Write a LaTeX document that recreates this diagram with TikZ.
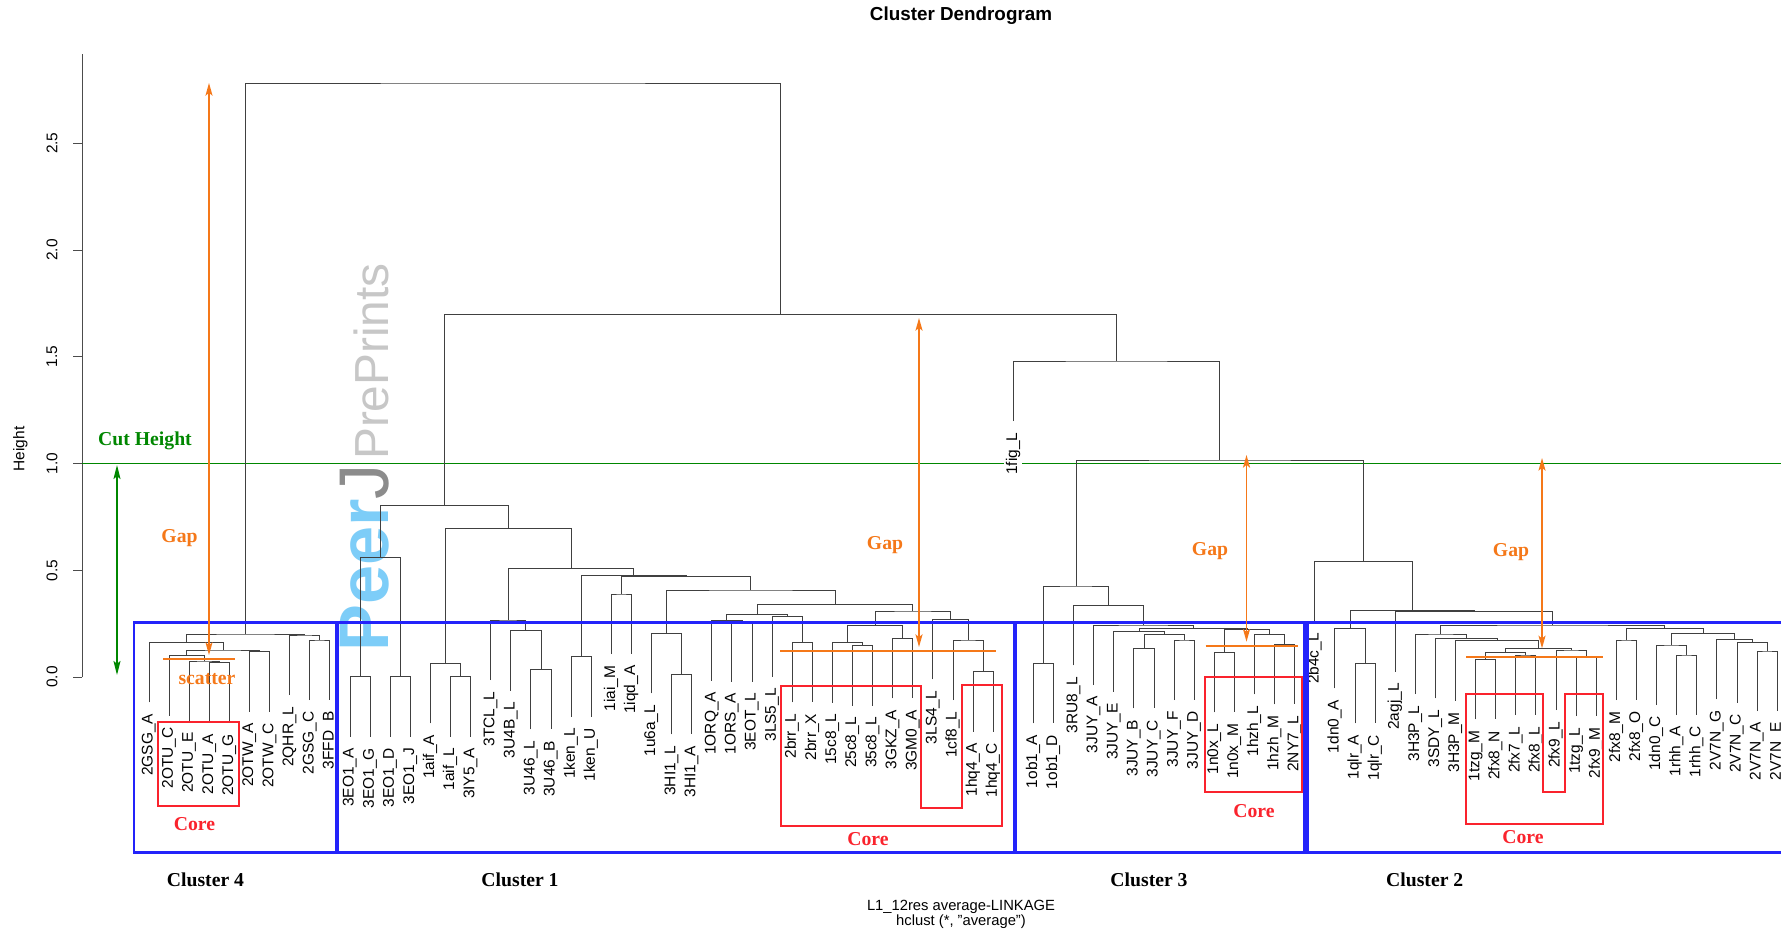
\documentclass[tikz,border=0pt]{standalone}
\usepackage{fontspec}
\setmainfont{Liberation Sans}
\newfontfamily\annofont{Liberation Serif}
\usetikzlibrary{calc}
\usetikzlibrary{arrows.meta}
\definecolor{peerblue}{RGB}{125,205,248}
\definecolor{cutgreen}{RGB}{0,135,0}
\definecolor{gaporange}{RGB}{245,120,25}
\definecolor{boxblue}{RGB}{35,35,250}
\definecolor{corered}{RGB}{250,35,45}
\tikzset{
    dendro/.style = {draw=black!75,line width=0.6pt},
    axisl/.style = {draw=black!70,line width=0.6pt},
    leaf/.style = {rotate=90,anchor=mid east,inner xsep=8pt,inner ysep=1.5pt,fill=white,font=\fontsize{11}{13}\selectfont},
    tick/.style = {rotate=90,inner sep=0pt,font=\fontsize{11}{13}\selectfont},
    boxb/.style = {draw=boxblue,line width=1.6pt},
    boxr/.style = {draw=corered,line width=1.3pt},
    edgeo/.style = {{Stealth[length=9pt,width=5pt,inset=2pt]}-{Stealth[length=9pt,width=5pt,inset=2pt]},draw=gaporange,line width=1.1pt},
    edgeg/.style = {{Stealth[length=10pt,width=5pt,inset=2pt]}-{Stealth[length=10pt,width=5pt,inset=2pt]},draw=cutgreen,line width=1pt},
    scatline/.style = {draw=gaporange,line width=1.3pt},
    cutline/.style = {draw=cutgreen,line width=1pt},
    anno/.style = {inner sep=0pt,font=\annofont\bfseries\fontsize{14}{16}\selectfont},
    annoo/.style = {anno,text=gaporange},
    annog/.style = {anno,text=cutgreen},
    annor/.style = {anno,text=corered},
}
% merge two children at height #4 (px)
\newcommand{\joinup}[4]{%
  \path let \p1=(#2), \p2=(#3) in coordinate (#1) at ({0.5*(\x1+\x2)},{#4*-0.025cm});
  \draw[dendro] (#2) |- (#1) -| (#3);
}

\begin{document}
\begin{tikzpicture}[x=0.025cm,y=-0.025cm]
\fill[white] (0,0) rectangle (1781,931);
\useasboundingbox (0,0) rectangle (1781,931);

% watermark
\node[rotate=90,anchor=base west,inner sep=0pt] (peerj) at (388,652)
  {\fontsize{50}{54}\selectfont\textcolor{peerblue}{\bfseries Peer}\textcolor{black!45}{J}\hspace{3pt}\textcolor{black!22}{\fontsize{34}{38}\selectfont PrePrints}};

\node[font=\bfseries\fontsize{13.4}{16}\selectfont] (title) at (961,16) {Cluster Dendrogram};
\node[tick] (ylab) at (20.5,449) {Height};
\draw[axisl] (82,677) -- (82,54.5);
\foreach \v [count=\k] in {0.0,0.5,1.0,1.5,2.0,2.5} {
  \draw[axisl] (82,{677-213.5*\v}) -- (73,{677-213.5*\v});
  \node[tick] (tick\k) at (52,{677-213.5*\v}) {\v};
}

\draw[cutline] (82,463.5) -- (1781,463.5);

% leaves
\foreach \lab/\yb [count=\i from 0] in {
  2GSG\_A/702.3, 2OTU\_C/715.7, 2OTU\_E/721, 2OTU\_A/722.5, 2OTU\_G/722.5,
  2OTW\_A/711.7, 2OTW\_C/711.7, 2QHR\_L/695, 2GSG\_C/700, 3FFD\_B/700,
  3EO1\_A/736.7, 3EO1\_G/736.7, 3EO1\_D/736.7, 3EO1\_J/736.7, 1aif\_A/723.3,
  1aif\_L/736.7, 3IY5\_A/736.7, 3TCL\_L/680, 3U4B\_L/690.7, 3U46\_L/729.3,
  3U46\_B/729.3, 1ken\_L/716.7, 1ken\_U/716.7, 1iai\_M/654, 1iqd\_A/654,
  1u6a\_L/693.3, 3HI1\_L/734.3, 3HI1\_A/734.3, 1ORQ\_A/680.5, 1ORS\_A/681.7,
  3EOT\_L/681.7, 3LS5\_L/676.7, 2brr\_L/702.3, 2brr\_X/702.3, 15c8\_L/702.5,
  25c8\_L/705.7, 35c8\_L/705.7, 3GKZ\_A/698.3, 3GM0\_A/698.3, 3LS4\_L/679.3,
  1cf8\_L/700, 1hq4\_A/731.7, 1hq4\_C/731.7,
  1fig\_L/421,
  1ob1\_A/723.3, 1ob1\_D/723.3, 3RU8\_L/665.3, 3JUY\_A/685, 3JUY\_E/691.7,
  3JUY\_B/708.3, 3JUY\_C/708.3, 3JUY\_F/700, 3JUY\_D/700, 1n0x\_L/712.3,
  1n0x\_M/712.3, 1hzh\_L/694.3, 1hzh\_M/704.3, 2NY7\_L/704.3,
  2b4c\_L/621.7, 1dn0\_A/688.3, 1qlr\_A/723.3, 1qlr\_C/723.3, 2agj\_L/671.7,
  3H3P\_L/694, 3SDY\_L/698.3, 3H3P\_M/700.7, 1tzg\_M/719.3, 2fx8\_N/719.3,
  2fx7\_L/715, 2fx8\_L/715, 2fx9\_L/710, 1tzg\_L/716, 2fx9\_M/716,
  2fx8\_M/700, 2fx8\_O/700, 1dn0\_C/705, 1rhh\_A/715, 1rhh\_C/715,
  2V7N\_G/699.3, 2V7N\_C/702.7, 2V7N\_A/711, 2V7N\_E/711} {
  \coordinate (l\i) at ({149+20.1*\i},\yb);
  \node[leaf] (t\i) at (l\i) {\lab};
}

% cluster 4
\joinup{mA}{l3}{l4}{662.5}
\joinup{mB}{l2}{mA}{661}
\joinup{mC}{l1}{mB}{655.7}
\joinup{mD}{l5}{l6}{651.7}
\joinup{mE}{mC}{mD}{650}
\joinup{mF}{l0}{mE}{642.3}
\joinup{mG}{l8}{l9}{640}
\joinup{mH}{l7}{mG}{635}
\joinup{c4}{mF}{mH}{634}
% cluster 1
\joinup{m10}{l10}{l11}{676.7}
\joinup{m11}{l12}{l13}{676.7}
\joinup{m12}{m10}{m11}{557.3}
\joinup{m13}{l15}{l16}{676.7}
\joinup{m14}{l14}{m13}{663.3}
\joinup{m15}{l19}{l20}{669.3}
\joinup{m16}{l18}{m15}{630.7}
\joinup{m17}{l17}{m16}{620}
\joinup{m18}{l21}{l22}{656.7}
\joinup{m19}{l23}{l24}{594}
\joinup{m20}{l26}{l27}{674.3}
\joinup{m21}{l25}{m20}{633.3}
\joinup{m22}{l29}{l30}{621.7}
\joinup{m23}{l28}{m22}{620.5}
\joinup{m24}{l32}{l33}{642.3}
\joinup{m25}{l31}{m24}{616.7}
\joinup{m26}{m23}{m25}{614.3}
\joinup{m27}{l35}{l36}{645.7}
\joinup{m28}{l34}{m27}{642.5}
\joinup{m29}{l37}{l38}{638.3}
\joinup{m30}{m28}{m29}{625.7}
\joinup{m31}{l41}{l42}{671.7}
\joinup{m32}{l40}{m31}{640}
\joinup{m33}{l39}{m32}{619.3}
\joinup{m34}{m30}{m33}{611}
\joinup{m35}{m26}{m34}{604.3}
\joinup{m36}{m21}{m35}{590}
\joinup{m37}{m19}{m36}{576.7}
\joinup{m38}{m18}{m37}{575.7}
\joinup{m39}{m17}{m38}{568.3}
\joinup{m40}{m14}{m39}{528.3}
\joinup{c1}{m12}{m40}{505.7}
% cluster 3
\joinup{n1}{l44}{l45}{663.3}
\joinup{n2}{l49}{l50}{648.3}
\joinup{n3}{l51}{l52}{640}
\joinup{n4}{n2}{n3}{634.3}
\joinup{n5}{l48}{n4}{631.7}
\joinup{n6}{l53}{l54}{652.3}
\joinup{n7}{l56}{l57}{644.3}
\joinup{n8}{l55}{n7}{634.3}
\joinup{n9}{n6}{n8}{629.3}
\joinup{n10}{n5}{n9}{628.3}
\joinup{n11}{l47}{n10}{625}
\joinup{n12}{l46}{n11}{605.3}
\joinup{c3}{n1}{n12}{586}
% cluster 2
\joinup{k1}{l60}{l61}{663.3}
\joinup{k2}{l59}{k1}{628.3}
\joinup{k3}{l66}{l67}{659.3}
\joinup{k4}{l68}{l69}{655}
\joinup{k5}{k3}{k4}{652.7}
\joinup{k6}{l71}{l72}{656}
\joinup{k7}{l70}{k6}{650}
\joinup{k8}{k5}{k7}{648.3}
\joinup{k9}{l65}{k8}{640.7}
\joinup{k10}{l64}{k9}{638.3}
\joinup{k11}{l63}{k10}{634}
\joinup{k12}{l73}{l74}{640}
\joinup{k13}{l76}{l77}{655}
\joinup{k14}{l75}{k13}{645}
\joinup{k15}{l80}{l81}{651}
\joinup{k16}{l79}{k15}{642.7}
\joinup{k17}{l78}{k16}{639.3}
\joinup{k18}{k14}{k17}{633.3}
\joinup{k19}{k12}{k18}{628.3}
\joinup{k20}{k11}{k19}{625}
\joinup{k21}{l62}{k20}{611.7}
\joinup{k22}{k2}{k21}{610.7}
\joinup{c2}{l58}{k22}{561.7}
% top
\joinup{c32}{c3}{c2}{460}
\joinup{cfg}{l43}{c32}{361}
\joinup{c1r}{c1}{cfg}{314.6}
\joinup{top}{c4}{c1r}{83}

% clusters
\draw[boxb] (134,622.5) rectangle (336,852.5);
\draw[boxb] (337.5,622.5) rectangle (1014,852.5);
\draw[boxb] (1016,622.5) rectangle (1304.5,852.5);
\draw[boxb] (1781,622.5) -- (1307.5,622.5) -- (1307.5,852.5) -- (1781,852.5);

% cores
\draw[boxr] (158.3,721.7) rectangle (239.3,806);
\draw[boxr] (781,686) -- (921,686) -- (921,808.3) -- (962.3,808.3) -- (962.3,685)
  -- (1001.7,685) -- (1001.7,826) -- (781,826) -- cycle;
\draw[boxr] (1205,677.3) rectangle (1302.3,792.3);
\draw[boxr] (1466,694) -- (1542.7,694) -- (1542.7,791.7) -- (1565,791.7) -- (1565,694)
  -- (1603.3,694) -- (1603.3,824) -- (1466,824) -- cycle;

% scatter lines
\draw[scatline] (163,659) -- (235,659);
\draw[scatline] (780,650.7) -- (996,650.7);
\draw[scatline] (1205.7,646) -- (1298.3,646);
\draw[scatline] (1466,656.7) -- (1603.3,656.7);

% gaps
\coordinate (g4t) at (209,83);
\coordinate (g4b) at (209,655);
\coordinate (g1t) at (919,318);
\coordinate (g1b) at (919,647);
\coordinate (g3t) at (1246.5,455);
\coordinate (g3b) at (1246.5,641.7);
\coordinate (g2t) at (1542,458);
\coordinate (g2b) at (1542,648.3);
\draw[edgeo] (g4t) -- (g4b);
\draw[edgeo] (g1t) -- (g1b);
\draw[edgeo] (g3t) -- (g3b);
\draw[edgeo] (g2t) -- (g2b);
\coordinate (cutt) at (117,465);
\coordinate (cutb) at (117,675);
\draw[edgeg] (cutt) -- (cutb);

\node[annog] (cut) at (145,441) {Cut Height};
\node[annoo] (gap4) at (179.5,538) {Gap};
\node[annoo] (gap1) at (885,545) {Gap};
\node[annoo] (gap3) at (1210,551) {Gap};
\node[annoo] (gap2) at (1511,552) {Gap};
\node[annoo] (scat) at (207,679) {scatter};
\node[annor] (core4) at (194.5,824) {Core};
\node[annor] (core1) at (868,839) {Core};
\node[annor] (core3) at (1254,811) {Core};
\node[annor] (core2) at (1523,836.7) {Core};
\node[anno] (cl4) at (205.5,880) {Cluster 4};
\node[anno] (cl1) at (520,880) {Cluster 1};
\node[anno] (cl3) at (1149,880) {Cluster 3};
\node[anno] (cl2) at (1424.7,880) {Cluster 2};

\node[font=\fontsize{10.5}{12}\selectfont] (xlab) at (961,907) {L1\_12res average-LINKAGE};
\node[font=\fontsize{10.5}{12}\selectfont] (sub) at (961,922) {hclust (*, "average")};
\end{tikzpicture}
\end{document}
